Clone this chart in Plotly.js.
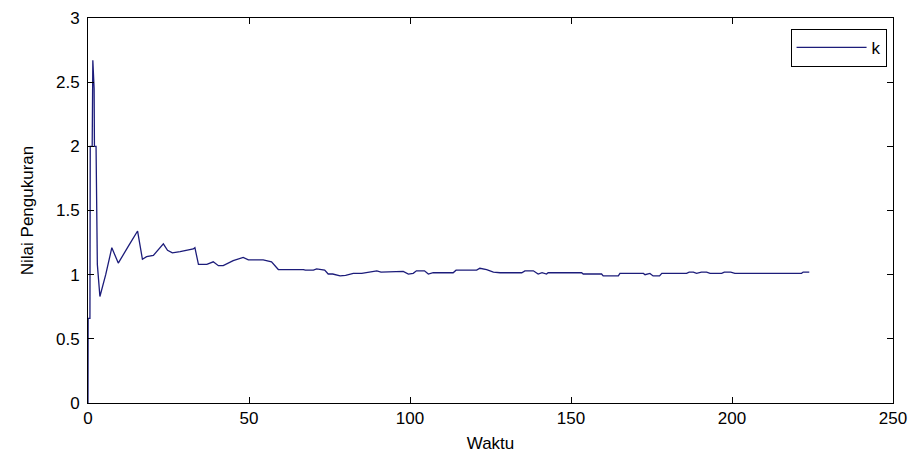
<!DOCTYPE html>
<html>
<head>
<meta charset="utf-8">
<script src="https://cdn.plot.ly/plotly-3.0.1.min.js"></script>
<style>html,body{margin:0;padding:0;background:#fff;}#chart{width:921px;height:463px;}</style>
</head>
<body>
<div id="chart"></div>
<script>
// Time values (x)
var waktu = [0, 0.05, 0.6, 0.7, 1.3, 1.5, 1.9, 2.0, 2.5, 2.6, 2.9, 3.7, 5.5, 7.4, 9.4, 12.5, 15.4, 16.9, 18.2, 20.3, 23.4, 24.7, 26.2, 28.6, 32.7, 33.2, 34.3, 36.9, 38.9, 40.5, 42.0, 45.1, 48.2, 49.8, 54.4, 57.0, 59.1,
  66.9, 67.5, 70, 71, 73.5, 74.6, 76, 78.3, 80, 82.4, 85, 87.6, 89.7, 91, 97.9, 99.5, 101, 102, 104.5, 105.7, 107.2, 113.4, 114.3, 120.7, 121.7, 123.8, 125.9, 128, 134.7, 135.7, 138.3, 139.8, 141, 142.4, 142.9, 153.3, 153.8, 159.5, 160, 164.7, 165.2, 172.5, 173, 174.5, 175.5, 177.5, 178.2, 185.9, 186.7, 188, 189, 190.5, 192.1, 193.2, 196.8, 197.6, 199.6, 200.9, 221.6, 222.1, 224];
// Measured values of k
var nilaiK = [0, 0.66, 0.66, 2.0, 2.0, 2.67, 2.45, 2.0, 2.0, 1.55, 1.08, 0.83, 1.0, 1.21, 1.09, 1.22, 1.34, 1.12, 1.14, 1.15, 1.24, 1.19, 1.17, 1.18, 1.20, 1.21, 1.08, 1.08, 1.10, 1.07, 1.07, 1.11, 1.135, 1.115, 1.115, 1.10, 1.04,
  1.04, 1.035, 1.035, 1.045, 1.035, 1.005, 1.005, 0.99, 0.995, 1.01, 1.01, 1.02, 1.03, 1.02, 1.025, 1.005, 1.01, 1.03, 1.03, 1.005, 1.015, 1.015, 1.035, 1.035, 1.05, 1.04, 1.02, 1.015, 1.015, 1.03, 1.03, 1.005, 1.015, 1.005, 1.015, 1.015, 1.005, 1.005, 0.99, 0.99, 1.01, 1.01, 1.0, 1.01, 0.99, 0.99, 1.01, 1.01, 1.02, 1.02, 1.01, 1.02, 1.02, 1.01, 1.01, 1.02, 1.02, 1.01, 1.01, 1.02, 1.02];
var seriesName = 'k';
var xTicks = [0, 50, 100, 150, 200, 250];
var yTicks = [0, 0.5, 1, 1.5, 2, 2.5, 3];

var fontFam = '"Liberation Sans Narrow", "Arial Narrow", "Liberation Sans", Arial, sans-serif';

var trace = {
  x: waktu, y: nilaiK, type: 'scatter', mode: 'lines', name: seriesName,
  line: {color: '#1c1c7a', width: 1.3}
};

var axisCommon = {
  showgrid: false, zeroline: false, showline: true, linecolor: '#000', linewidth: 1,
  mirror: 'ticks', ticks: 'inside', ticklen: 6, tickcolor: '#000', tickwidth: 1,
  tickfont: {family: fontFam, size: 17, color: '#000'}
};

var layout = {
  width: 921, height: 463,
  margin: {l: 88, r: 28, t: 18, b: 60},
  paper_bgcolor: '#fff', plot_bgcolor: '#fff',
  font: {family: fontFam, color: '#000'},
  showlegend: true,
  legend: {
    x: 0.992, y: 0.972, xanchor: 'right', yanchor: 'top',
    bordercolor: '#000', borderwidth: 1, bgcolor: '#fff',
    itemwidth: 70, tracegroupgap: 0,
    font: {family: fontFam, size: 17, color: '#000'}
  },
  xaxis: Object.assign({}, axisCommon, {
    range: [0, 250], tickvals: xTicks, ticktext: xTicks.map(String),
    title: {text: 'Waktu', font: {family: fontFam, size: 17, color: '#000'}, standoff: 9}
  }),
  yaxis: Object.assign({}, axisCommon, {
    range: [0, 3], tickvals: yTicks, ticktext: yTicks.map(String),
    ticklabelstandoff: 4,
    title: {text: 'Nilai Pengukuran', font: {family: fontFam, size: 17, color: '#000'}, standoff: 18}
  })
};

Plotly.newPlot('chart', [trace], layout, {displayModeBar: false, staticPlot: true});
</script>
</body>
</html>
